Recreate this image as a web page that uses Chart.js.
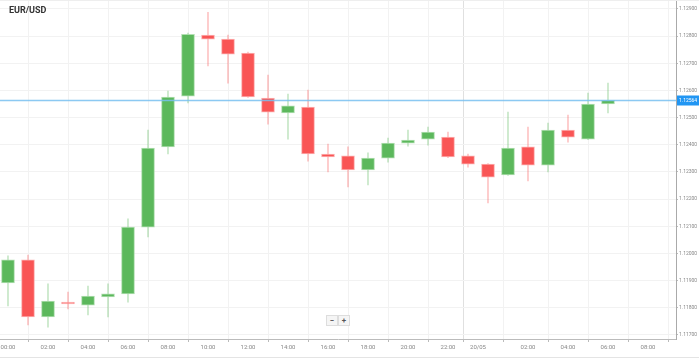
<!DOCTYPE html>
<html>
<head>
<meta charset="utf-8">
<script src="https://cdn.jsdelivr.net/npm/chart.js@4.4.1/dist/chart.umd.min.js"></script>
<style>
  body { margin: 0; background: #fff; }
  #wrap { position: relative; width: 699px; height: 359px; overflow: hidden; }
  #title { position: absolute; left: 9px; top: 5px; font: bold 9px Roboto, "Liberation Sans", sans-serif; color: #333; }
  #zoomBtns { position: absolute; left: 326px; top: 315px; display: flex; }
  #zoomBtns div { width: 10px; height: 9px; border: 1px solid #ddd; background: #f5f5f5; font: bold 8px Roboto, sans-serif; color: #555; text-align: center; line-height: 9px; }
  #topLine { position: absolute; left: 0; top: 0; width: 699px; height: 1px; background: #eee; }
  #bottomLine { position: absolute; left: 0; top: 357px; width: 699px; height: 1px; background: #e4e4e4; }
</style>
</head>
<body>
<div id="wrap">
  <canvas id="chart" width="699" height="359"></canvas>
  <div id="topLine"></div>
  <div id="bottomLine"></div>
  <div id="title">EUR/USD</div>
  <div id="zoomBtns"><div>&minus;</div><div>+</div></div>
</div>
<script>
// hourly candles, hour index from 00:00 on 19/05
const hours  = [0,1,2,3,4,5,6,7,8,9,10,11,12,13,14,15,16,17,18,19,20,21,22,23,24,25,26,27,28,29,30];
const opens  = [1.11891,1.11976,1.11766,1.11821,1.11810,1.11840,1.11851,1.12097,1.12392,1.12579,1.12804,1.12789,1.12738,1.12572,1.12517,1.12539,1.12366,1.12359,1.12307,1.12351,1.12406,1.12421,1.12428,1.12359,1.12329,1.12289,1.12392,1.12325,1.12454,1.12421,1.12550];
const highs  = [1.11991,1.11994,1.11888,1.11858,1.11880,1.11888,1.12127,1.12454,1.12598,1.12811,1.12888,1.12804,1.12741,1.12657,1.12587,1.12601,1.12403,1.12392,1.12370,1.12425,1.12454,1.12465,1.12447,1.12366,1.12331,1.12520,1.12465,1.12480,1.12509,1.12590,1.12627];
const lows   = [1.11807,1.11737,1.11729,1.11796,1.11774,1.11766,1.11821,1.12061,1.12366,1.12554,1.12690,1.12627,1.12574,1.12476,1.12421,1.12340,1.12300,1.12245,1.12252,1.12336,1.12395,1.12399,1.12353,1.12318,1.12186,1.12287,1.12267,1.12300,1.12410,1.12419,1.12517];
const closes = [1.11976,1.11766,1.11825,1.11814,1.11843,1.11851,1.12097,1.12388,1.12576,1.12807,1.12789,1.12734,1.12576,1.12520,1.12543,1.12366,1.12355,1.12307,1.12351,1.12406,1.12417,1.12447,1.12355,1.12329,1.12281,1.12388,1.12325,1.12454,1.12428,1.12550,1.12564];

const xTickValues = [0,2,4,6,8,10,12,14,16,18,20,22,23.5,26,28,30,32];
const xTickLabels = ["00:00","02:00","04:00","06:00","08:00","10:00","12:00","14:00","16:00","18:00","20:00","22:00","20/05","02:00","04:00","06:00","08:00"];
const yTickValues = [1.117,1.118,1.119,1.120,1.121,1.122,1.123,1.124,1.125,1.126,1.127,1.128,1.129];

const lastPrice = closes[closes.length - 1];

const GREEN = "rgb(92,184,92)";
const RED = "rgb(249,85,85)";

const isUp = hours.map((h, i) => closes[i] >= opens[i]);

// ---- current price line + label ----
const priceLine = {
    id: "priceLine",
    afterDatasetsDraw(chart) {
        const ctx = chart.ctx;
        const area = chart.chartArea;
        const y = Math.round(chart.scales.y.getPixelForValue(lastPrice)) + 0.5;
        ctx.save();
        ctx.strokeStyle = "rgba(120,192,240,0.85)";
        ctx.lineWidth = 1.5;
        ctx.beginPath();
        ctx.moveTo(area.left, y);
        ctx.lineTo(area.right, y);
        ctx.stroke();
        ctx.fillStyle = "#2196f3";
        ctx.fillRect(area.right + 1, y - 5, 22, 10);
        ctx.fillStyle = "#fff";
        ctx.font = "5px Roboto, sans-serif";
        ctx.textBaseline = "middle";
        ctx.fillText(lastPrice.toFixed(5), area.right + 3, y);
        ctx.restore();
    }
};

const ctx = document.getElementById("chart").getContext("2d");

new Chart(ctx, {
    type: "bar",
    data: {
        datasets: [{
            label: "wick",
            data: hours.map((h, i) => ({ x: h, y: [lows[i], highs[i]] })),
            backgroundColor: isUp.map(u => u ? "rgba(92,184,92,0.35)" : "rgba(249,85,85,0.35)"),
            barThickness: 1,
            grouped: false,
            order: 2
        }, {
            label: "body",
            data: hours.map((h, i) => ({ x: h, y: [opens[i], closes[i]] })),
            backgroundColor: isUp.map(u => u ? GREEN : RED),
            borderColor: isUp.map(u => u ? "rgba(170,220,170,0.9)" : "rgba(252,170,170,0.9)"),
            borderWidth: 1,
            borderSkipped: false,
            barThickness: 13,
            grouped: false,
            order: 1
        }]
    },
    options: {
        responsive: false,
        animation: false,
        layout: { padding: 0 },
        plugins: {
            legend: { display: false },
            tooltip: { enabled: false }
        },
        scales: {
            x: {
                type: "linear",
                min: -0.4,
                max: 33.4,
                offset: false,
                afterBuildTicks: scale => { scale.ticks = xTickValues.map(v => ({ value: v })); },
                afterFit: scale => {
                    scale.height = 20;
                    scale.paddingLeft = 0;
                    scale.paddingRight = 0;
                },
                ticks: {
                    autoSkip: false,
                    maxRotation: 0,
                    padding: 2,
                    color: "#888",
                    font: { size: 6, family: "Roboto" },
                    callback: v => xTickLabels[xTickValues.indexOf(v)]
                },
                grid: {
                    color: c => (c.tick && c.tick.value === 23.5) ? "#e0e0e0" : "#f2f2f2",
                    tickColor: "#bbb",
                    tickLength: 3
                },
                border: { color: "#bbb" }
            },
            y: {
                position: "right",
                min: 1.11685,
                max: 1.12933,
                afterBuildTicks: scale => { scale.ticks = yTickValues.map(v => ({ value: v })); },
                afterFit: scale => {
                    scale.width = 23;
                    scale.paddingTop = 0;
                    scale.paddingBottom = 0;
                },
                ticks: {
                    padding: 1,
                    color: "#888",
                    font: { size: 5, family: "Roboto" },
                    callback: v => v.toFixed(5)
                },
                grid: {
                    color: "#f2f2f2",
                    tickColor: "#bbb",
                    tickLength: 2
                },
                border: { color: "#aaa" }
            }
        }
    },
    plugins: [priceLine]
});
</script>
</body>
</html>
